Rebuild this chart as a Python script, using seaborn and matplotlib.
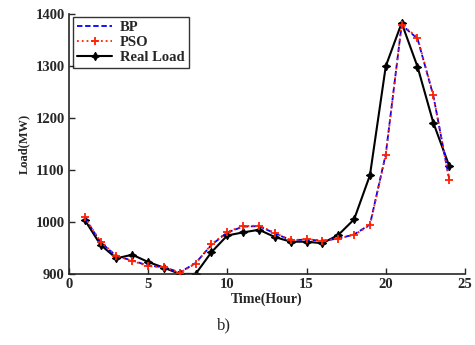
import matplotlib
matplotlib.use("Agg")
import matplotlib.pyplot as plt
import pandas as pd
import seaborn as sns

hours = list(range(1, 25))
real_load = [1004, 956, 930, 937, 923, 912, 900, 900, 942, 974, 980, 985,
             971, 962, 962, 959, 975, 1005, 1090, 1300, 1383, 1299, 1191, 1108]
pso = [1009, 962, 935, 925, 915, 913, 902, 920, 957, 981, 992, 993,
       979, 965, 967, 964, 968, 975, 994, 1129, 1380, 1355, 1244, 1081]
bp = [1008, 961, 934, 926, 916, 913, 903, 921, 956, 980, 991, 992,
      978, 965, 966, 964, 968, 976, 995, 1131, 1379, 1353, 1243, 1083]

df = pd.DataFrame({"hour": hours, "BP": bp, "PSO": pso, "Real Load": real_load})

sns.set_style("ticks")
plt.rcParams["font.family"] = ["Liberation Serif", "DejaVu Serif"]
plt.rcParams["font.weight"] = "bold"

fig = plt.figure(figsize=(4.75, 3.45), dpi=100)
ax = fig.add_axes([0.145, 0.206, 0.834, 0.753])

red = "#ff2200"
sns.lineplot(df, x="hour", y="BP", ax=ax, color="#0000ff", lw=1.3,
             linestyle=(0, (3, 1.5)), label="BP", zorder=3)
sns.lineplot(df, x="hour", y="PSO", ax=ax, color=red, lw=1.3,
             linestyle=":", marker="+", markersize=6, markeredgewidth=1.3,
             markeredgecolor=red, label="PSO", zorder=4)
sns.lineplot(df, x="hour", y="Real Load", ax=ax, color="black", lw=1.5,
             marker=(4, 1, 0), markersize=6, markeredgecolor="black",
             markeredgewidth=0.8, label="Real Load", zorder=2)

ax.set_xlim(0, 25)
ax.set_ylim(900, 1400)
ax.set_xticks([0, 5, 10, 15, 20, 25])
ax.set_yticks([900, 1000, 1100, 1200, 1300, 1400])
ax.tick_params(direction="in", length=4, width=1, labelsize=10.5, pad=3)
for lbl in ax.get_xticklabels() + ax.get_yticklabels():
    lbl.set_fontweight("bold")
sns.despine(ax=ax)
for s in ("left", "bottom"):
    ax.spines[s].set_linewidth(1.2)
ax.set_xlabel("Time(Hour)", fontsize=10, fontweight="bold", labelpad=1)
ax.set_ylabel("Load(MW)", fontsize=9, fontweight="bold", labelpad=4)

leg = ax.legend(loc="upper left", bbox_to_anchor=(0.01, 0.99), fontsize=10.5,
                frameon=True, fancybox=False, edgecolor="black",
                handlelength=2.4, labelspacing=0.1, borderpad=0.3,
                handletextpad=0.5, borderaxespad=0)
leg.get_frame().set_linewidth(1.0)
for t in leg.get_texts():
    t.set_fontweight("bold")

fig.text(0.472, 0.058, "b)", fontsize=12, fontweight="normal", ha="center", va="center")

fig.savefig("out.png", dpi=100)
